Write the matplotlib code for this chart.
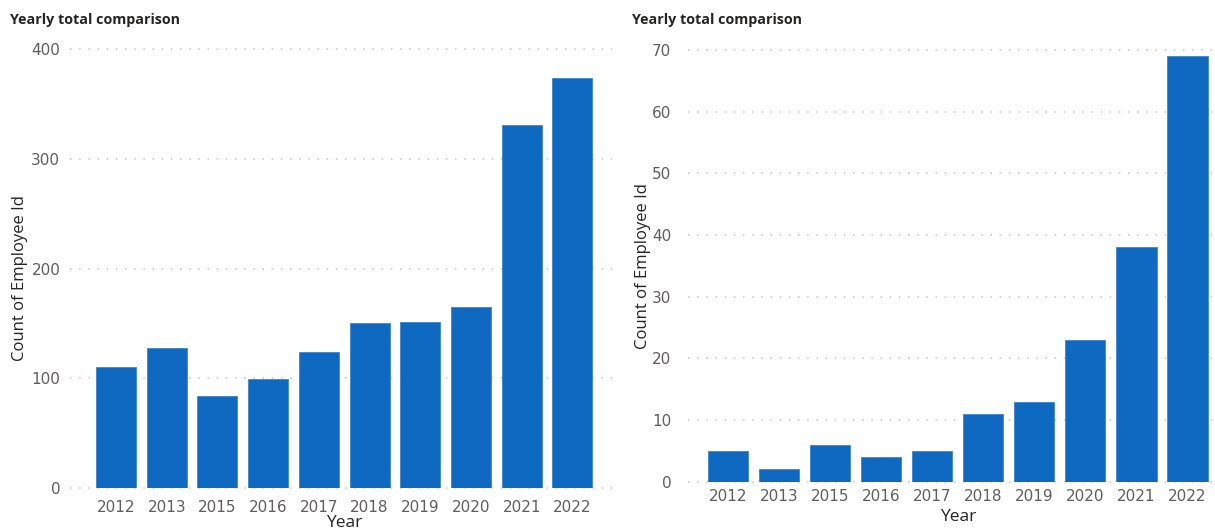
import matplotlib
matplotlib.use("Agg")
import matplotlib.pyplot as plt
from matplotlib import font_manager

years = ["2012", "2013", "2015", "2016", "2017", "2018", "2019", "2020", "2021", "2022"]
all_counts = [110, 128, 84, 99, 124, 150, 151, 165, 331, 374]
subset_counts = [5, 2, 6, 4, 5, 11, 13, 23, 38, 69]

left_ticks = [0, 100, 200, 300, 400]
right_ticks = [0, 10, 20, 30, 40, 50, 60, 70]

BAR = "#0F69C0"
GRID = "#C8C6C4"
TICK = "#605E5C"
TEXT = "#252423"

names = {f.name for f in font_manager.fontManager.ttflist}
tick_font = ["Liberation Sans Narrow"] if "Liberation Sans Narrow" in names else []
tick_font = tick_font + ["DejaVu Sans"]
label_font = ["Open Sans", "DejaVu Sans"]

W, H = 1215, 530
fig = plt.figure(figsize=(W / 100, H / 100), dpi=100)


def px_axes(x0, y0, x1, y1):
    return fig.add_axes([x0 / W, 1 - y1 / H, (x1 - x0) / W, (y1 - y0) / H])


def draw_panel(ax, values, ticks, xlim, xpad, ypad):
    x = range(len(years))
    ax.bar(x, values, width=0.79, color=BAR, edgecolor="#3F86CC", linewidth=0.6, zorder=3)
    ax.set_xlim(*xlim)
    ax.set_ylim(ticks[0], ticks[-1])
    ax.set_yticks(ticks)
    ax.set_xticks(list(x))
    ax.set_xticklabels(years)
    for s in ax.spines.values():
        s.set_visible(False)
    ax.yaxis.grid(True, color=GRID, linestyle=(0, (1, 5)), linewidth=1.1, zorder=0)
    ax.tick_params(axis="both", length=0, colors=TICK, labelsize=11)
    ax.tick_params(axis="y", pad=ypad)
    ax.tick_params(axis="x", pad=xpad)
    for lab in ax.get_xticklabels() + ax.get_yticklabels():
        lab.set_fontfamily(tick_font)
    for ln in ax.get_ygridlines():
        ln.set_clip_on(False)


ax1 = px_axes(70, 49, 612, 488)
draw_panel(ax1, all_counts, left_ticks, (-0.907, 9.78), 9, 7)
ax2 = px_axes(688, 50, 1213, 481.7)
draw_panel(ax2, subset_counts, right_ticks, (-0.78, 9.5), 5, 12)

# axis titles
fig.text(20 / W, 1 - 278 / H, "Count of Employee Id", rotation=90, ha="center", va="center",
         fontsize=12, color=TEXT, family=label_font)
fig.text(643 / W, 1 - 266 / H, "Count of Employee Id", rotation=90, ha="center", va="center",
         fontsize=12, color=TEXT, family=label_font)
fig.text(344 / W, 1 - 523 / H, "Year", ha="center", va="center",
         fontsize=12.5, color=TEXT, family=label_font)
fig.text(958 / W, 1 - 517 / H, "Year", ha="center", va="center",
         fontsize=12.5, color=TEXT, family=label_font)

# panel titles
fig.text(10 / W, 1 - 20 / H, "Yearly total comparison", ha="left", va="center",
         fontsize=10.3, fontweight="bold", color=TEXT, family=label_font)
fig.text(632 / W, 1 - 20 / H, "Yearly total comparison", ha="left", va="center",
         fontsize=10.3, fontweight="bold", color=TEXT, family=label_font)

fig.savefig("out.png", dpi=100, facecolor="white")
